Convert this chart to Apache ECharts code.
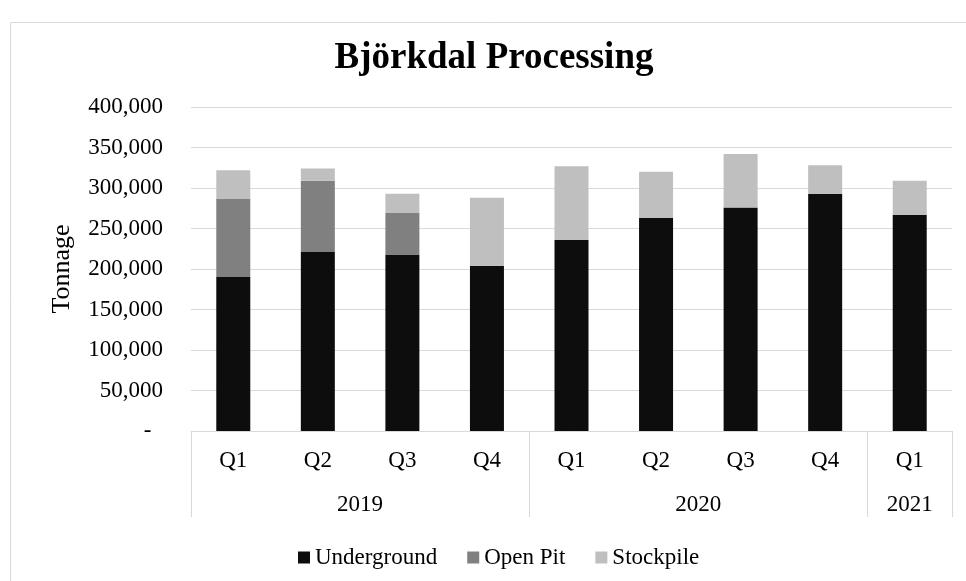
<!DOCTYPE html>
<html>
<head>
<meta charset="utf-8">
<script src="https://cdn.jsdelivr.net/npm/echarts@6/dist/echarts.min.js"></script>
<style>html,body{margin:0;padding:0;background:#fff}#c{width:966px;height:581px}</style>
</head>
<body>
<div id="c"></div>
<script>
const quarters = ['Q1','Q2','Q3','Q4','Q1','Q2','Q3','Q4','Q1'];
const years = ['2019','2020','2021'];
const yearCounts = [4,4,1];
const underground = [190000, 221000, 218000, 204000, 236000, 263000, 276000, 293000, 267000];
const openPit = [97000, 88000, 51000, 0, 0, 0, 0, 0, 0];
const stockpile = [35000, 15000, 24000, 84000, 91000, 57000, 66000, 35000, 42000];
const yTicks = [0, 50000, 100000, 150000, 200000, 250000, 300000, 350000, 400000];

const FONT = '"Liberation Serif", "Times New Roman", serif';
const GRID = '#d9d9d9';

// group boundaries and centers for the year level
const bounds = [0];
yearCounts.forEach(c => bounds.push(bounds[bounds.length-1] + c));
const centers = years.map((y,i) => (bounds[i] + bounds[i+1]) / 2);

const chart = echarts.init(document.getElementById('c'));
chart.setOption({
  animation: false,
  backgroundColor: '#fff',
  graphic: [{
    type: 'rect', left: 8, top: 20, silent: true,
    shape: {x: 0.5, y: 0.5, width: 1000, height: 600},
    style: {fill: 'none', stroke: GRID, lineWidth: 1}
  }],
  title: {
    text: 'Björkdal Processing',
    left: 489, top: 35, textAlign: 'center',
    textStyle: {fontFamily: FONT, fontSize: 37, fontWeight: 'bold', color: '#000'}
  },
  legend: {
    left: 293, top: 541,
    icon: 'rect', itemWidth: 12, itemHeight: 12, itemGap: 30,
    textStyle: {fontFamily: FONT, fontSize: 23, color: '#000'},
    data: ['Underground','Open Pit','Stockpile']
  },
  grid: {left: 191, right: 14, top: 107, bottom: 150, containLabel: false},
  xAxis: [{
    type: 'category', data: quarters,
    axisLine: {show: true, lineStyle: {color: GRID, width: 1}},
    axisTick: {show: false},
    axisLabel: {margin: 18, fontFamily: FONT, fontSize: 23, color: '#000', interval: 0}
  }, {
    type: 'value', min: 0, max: bounds[bounds.length-1], position: 'bottom',
    axisLine: {show: false},
    splitLine: {show: false},
    axisTick: {show: true, customValues: bounds, length: 86, lineStyle: {color: GRID, width: 1}},
    axisLabel: {
      customValues: centers, margin: 62, fontFamily: FONT, fontSize: 23, color: '#000',
      formatter: v => { const i = centers.indexOf(v); return i >= 0 ? years[i] : ''; }
    }
  }],
  yAxis: {
    type: 'value', min: yTicks[0], max: yTicks[yTicks.length-1], interval: yTicks[1] - yTicks[0],
    name: 'Tonnage', nameLocation: 'middle', nameGap: 116, nameRotate: 90,
    nameTextStyle: {fontFamily: FONT, fontSize: 26, color: '#000'},
    axisLine: {show: false}, axisTick: {show: false},
    splitLine: {lineStyle: {color: GRID, width: 1}},
    axisLabel: {
      margin: 28, fontFamily: FONT, fontSize: 23, color: '#000',
      formatter: v => v === 0 ? '-  ' : v.toLocaleString('en-US')
    }
  },
  series: [
    {name: 'Underground', type: 'bar', stack: 't', data: underground, barWidth: 34, itemStyle: {color: '#0d0d0d'}},
    {name: 'Open Pit', type: 'bar', stack: 't', data: openPit, barWidth: 34, itemStyle: {color: '#808080'}},
    {name: 'Stockpile', type: 'bar', stack: 't', data: stockpile, barWidth: 34, itemStyle: {color: '#bfbfbf'}}
  ]
});
</script>
</body>
</html>
